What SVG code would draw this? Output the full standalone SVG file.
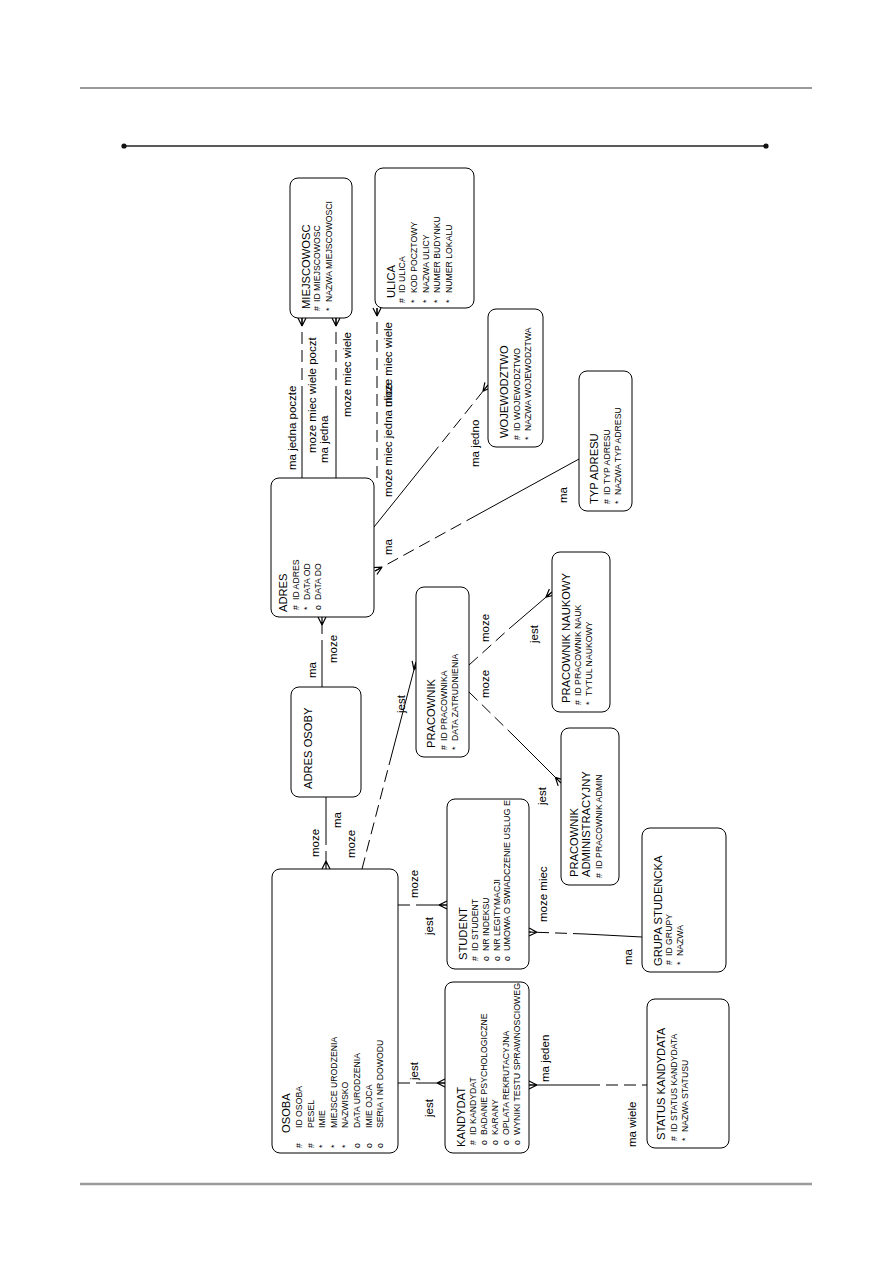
<svg xmlns="http://www.w3.org/2000/svg" width="893" height="1263" viewBox="0 0 893 1263">
<style>
.box{fill:#fff;stroke:#000;stroke-width:1}
.t{font-family:"Liberation Sans",Arial,sans-serif;font-size:11.2px;fill:#000}
.a{font-family:"Liberation Sans",Arial,sans-serif;font-size:8.7px;fill:#000}
.l{font-family:"Liberation Sans",Arial,sans-serif;font-size:11.5px;fill:#000}
.s{fill:none;stroke:#000;stroke-width:1}
.d{fill:none;stroke:#000;stroke-width:1;stroke-dasharray:12 6}
.cf{fill:none;stroke:#000;stroke-width:1.2;stroke-dasharray:none}
</style>
<defs>
<marker id="crow" markerUnits="userSpaceOnUse" markerWidth="12" markerHeight="12" refX="10" refY="6" orient="auto">
<path class="cf" d="M2,6 L10,2 M2,6 L10,10 M2,6 L10,6"/>
</marker>
</defs>
<rect x="0" y="0" width="893" height="1263" fill="#fff"/>
<g id="page">
<line x1="80" y1="88" x2="812" y2="88" stroke="#9a9a9a" stroke-width="2.2"/>
<line x1="80" y1="1184" x2="812" y2="1184" stroke="#9a9a9a" stroke-width="2.4"/>
<line x1="124" y1="146" x2="766" y2="146" stroke="#222" stroke-width="1.6"/>
<circle cx="124" cy="146" r="2.6" fill="#111"/>
<circle cx="766" cy="146" r="2.6" fill="#111"/>
</g>
<g id="connectors">
<path class="s" d="M302,478 L302,398"/><path class="d" d="M302,398 L302,318" marker-end="url(#crow)"/>
<path class="s" d="M336,478 L336,398"/><path class="d" d="M336,398 L336,318" marker-end="url(#crow)"/>
<path class="d" d="M377,478 L377,308" marker-end="url(#crow)"/>
<path class="s" d="M374,527 L431,456"/><path class="d" d="M431,456 L488,385" marker-end="url(#crow)"/>
<path class="d" d="M477,515 L375,571" marker-end="url(#crow)"/><path class="s" d="M477,515 L579,459"/>
<path class="d" d="M322,652 L322,617" marker-end="url(#crow)"/><path class="s" d="M322,652 L322,687"/>
<path class="s" d="M326,797 L326,833"/><path class="d" d="M326,833 L326,869" marker-end="url(#crow)"/>
<path class="d" d="M362,869 L389,765"/><path class="s" d="M389,765 L416,662" marker-end="url(#crow)"/>
<path class="d" d="M469,665 L510,628"/><path class="s" d="M510,628 L552,592" marker-end="url(#crow)"/>
<path class="d" d="M469,692 L515,737"/><path class="s" d="M515,737 L561,783" marker-end="url(#crow)"/>
<path class="d" d="M398,905 L422,905"/><path class="s" d="M422,905 L447,905" marker-end="url(#crow)"/>
<path class="d" d="M398,1083 L421,1083"/><path class="s" d="M421,1083 L445,1083" marker-end="url(#crow)"/>
<path class="d" d="M585,934 L529,932" marker-end="url(#crow)"/><path class="s" d="M585,934 L642,937"/>
<path class="s" d="M588,1085 L529,1085" marker-end="url(#crow)"/><path class="d" d="M588,1085 L647,1085"/>
</g>
<g id="labels">
<text class="l" transform="translate(296,470) rotate(-90)">ma jedna poczte</text>
<text class="l" transform="translate(316,453) rotate(-90)">moze miec wiele poczt</text>
<text class="l" transform="translate(328,463) rotate(-90)">ma jedna</text>
<text class="l" transform="translate(351,417) rotate(-90)">moze miec wiele</text>
<text class="l" transform="translate(392,497) rotate(-90)">moze miec jedna ulice</text>
<text class="l" transform="translate(392,407) rotate(-90)">moze miec wiele</text>
<text class="l" transform="translate(479,467) rotate(-90)">ma jedno</text>
<text class="l" transform="translate(392,555) rotate(-90)">ma</text>
<text class="l" transform="translate(567,503) rotate(-90)">ma</text>
<text class="l" transform="translate(316,678) rotate(-90)">ma</text>
<text class="l" transform="translate(337,663) rotate(-90)">moze</text>
<text class="l" transform="translate(319,857) rotate(-90)">moze</text>
<text class="l" transform="translate(341,828) rotate(-90)">ma</text>
<text class="l" transform="translate(355,858) rotate(-90)">moze</text>
<text class="l" transform="translate(405,713) rotate(-90)">jest</text>
<text class="l" transform="translate(489,642) rotate(-90)">moze</text>
<text class="l" transform="translate(538,643) rotate(-90)">jest</text>
<text class="l" transform="translate(489,698) rotate(-90)">moze</text>
<text class="l" transform="translate(546,805) rotate(-90)">jest</text>
<text class="l" transform="translate(418,898) rotate(-90)">moze</text>
<text class="l" transform="translate(433,935) rotate(-90)">jest</text>
<text class="l" transform="translate(418,1080) rotate(-90)">jest</text>
<text class="l" transform="translate(433,1117) rotate(-90)">jest</text>
<text class="l" transform="translate(547,922) rotate(-90)">moze miec</text>
<text class="l" transform="translate(632,965) rotate(-90)">ma</text>
<text class="l" transform="translate(549,1082) rotate(-90)">ma jeden</text>
<text class="l" transform="translate(636,1147) rotate(-90)">ma wiele</text>
</g>
<g id="miejscowosc">
<rect class="box" x="290" y="178" width="62" height="140" rx="8"/>
<g transform="translate(290,318) rotate(-90)">
<text class="t" x="9" y="20">MIEJSCOWOSC</text>
<text class="a" x="7" y="30">#</text><text class="a" x="16" y="30">ID MIEJSCOWOSC</text>
<text class="a" x="7" y="41.5">*</text><text class="a" x="16" y="41.5">NAZWA MIEJSCOWOSCI</text>
</g>
</g>
<g id="ulica">
<rect class="box" x="375" y="168" width="99" height="140" rx="8"/>
<g transform="translate(375,308) rotate(-90)">
<text class="t" x="10" y="20">ULICA</text>
<text class="a" x="5" y="30">#</text><text class="a" x="15" y="30">ID ULICA</text>
<text class="a" x="5" y="42">*</text><text class="a" x="15" y="42">KOD POCZTOWY</text>
<text class="a" x="5" y="53.5">*</text><text class="a" x="15" y="53.5">NAZWA ULICY</text>
<text class="a" x="5" y="65">*</text><text class="a" x="15" y="65">NUMER BUDYNKU</text>
<text class="a" x="5" y="77">*</text><text class="a" x="15" y="77">NUMER LOKALU</text>
</g>
</g>
<g id="wojewodztwo">
<rect class="box" x="488" y="309" width="55" height="138" rx="8"/>
<g transform="translate(488,447) rotate(-90)">
<text class="t" x="9" y="20">WOJEWODZTWO</text>
<text class="a" x="7" y="32">#</text><text class="a" x="16" y="32">ID WOJEWODZTWO</text>
<text class="a" x="7" y="43">*</text><text class="a" x="16" y="43">NAZWA WOJEWODZTWA</text>
</g>
</g>
<g id="typ_adresu">
<rect class="box" x="579" y="371" width="53" height="140" rx="8"/>
<g transform="translate(579,511) rotate(-90)">
<text class="t" x="7" y="19">TYP ADRESU</text>
<text class="a" x="7" y="31">#</text><text class="a" x="16" y="31">ID TYP ADRESU</text>
<text class="a" x="7" y="41.5">*</text><text class="a" x="16" y="41.5">NAZWA TYP ADRESU</text>
</g>
</g>
<g id="adres">
<rect class="box" x="271" y="478" width="103" height="139" rx="8"/>
<g transform="translate(271,617) rotate(-90)">
<text class="t" x="5" y="16">ADRES</text>
<text class="a" x="7" y="28">#</text><text class="a" x="17" y="28">ID ADRES</text>
<text class="a" x="7" y="39">*</text><text class="a" x="17" y="39">DATA OD</text>
<text class="a" x="7" y="49.5">o</text><text class="a" x="17" y="49.5">DATA DO</text>
</g>
</g>
<g id="adres_osoby">
<rect class="box" x="291" y="687" width="70" height="110" rx="8"/>
<g transform="translate(291,797) rotate(-90)">
<text class="t" x="8" y="21">ADRES OSOBY</text>
</g>
</g>
<g id="osoba">
<rect class="box" x="272" y="869" width="126" height="284" rx="8"/>
<g transform="translate(272,1153) rotate(-90)">
<text class="t" x="20" y="18">OSOBA</text>
<text class="a" x="5" y="30">#</text><text class="a" x="25" y="30">ID OSOBA</text>
<text class="a" x="5" y="41.6">#</text><text class="a" x="25" y="41.6">PESEL</text>
<text class="a" x="5" y="53.2">*</text><text class="a" x="25" y="53.2">IMIE</text>
<text class="a" x="5" y="64.8">*</text><text class="a" x="25" y="64.8">MIEJSCE URODZENIA</text>
<text class="a" x="5" y="76.4">*</text><text class="a" x="25" y="76.4">NAZWISKO</text>
<text class="a" x="5" y="88">o</text><text class="a" x="25" y="88">DATA URODZENIA</text>
<text class="a" x="5" y="99.6">o</text><text class="a" x="25" y="99.6">IMIE OJCA</text>
<text class="a" x="5" y="111.2">o</text><text class="a" x="25" y="111.2">SERIA I NR DOWODU</text>
</g>
</g>
<g id="pracownik">
<rect class="box" x="416" y="587" width="53" height="170" rx="8"/>
<g transform="translate(416,757) rotate(-90)">
<text class="t" x="9" y="19">PRACOWNIK</text>
<text class="a" x="7" y="31">#</text><text class="a" x="16" y="31">ID PRACOWNIKA</text>
<text class="a" x="7" y="42">*</text><text class="a" x="16" y="42">DATA ZATRUDNIENIA</text>
</g>
</g>
<g id="pracownik_naukowy">
<rect class="box" x="552" y="552" width="58" height="160" rx="8"/>
<g transform="translate(552,712) rotate(-90)">
<text class="t" x="9" y="18">PRACOWNIK NAUKOWY</text>
<text class="a" x="7" y="29">#</text><text class="a" x="16" y="29">ID PRACOWNIK NAUK</text>
<text class="a" x="7" y="40">*</text><text class="a" x="16" y="40">TYTUL NAUKOWY</text>
</g>
</g>
<g id="pracownik_administracyjny">
<rect class="box" x="561" y="728" width="58" height="157" rx="8"/>
<g transform="translate(561,885) rotate(-90)">
<text class="t" x="8" y="17">PRACOWNIK</text>
<text class="t" x="8" y="29">ADMINISTRACYJNY</text>
<text class="a" x="7" y="41">#</text><text class="a" x="16" y="41">ID PRACOWNIK ADMIN</text>
</g>
</g>
<g id="student">
<rect class="box" x="447" y="799" width="82" height="170" rx="8"/>
<g transform="translate(447,969) rotate(-90)">
<text class="t" x="9" y="20">STUDENT</text>
<text class="a" x="8" y="31">#</text><text class="a" x="18" y="31">ID STUDENT</text>
<text class="a" x="8" y="41.5">o</text><text class="a" x="18" y="41.5">NR INDEKSU</text>
<text class="a" x="8" y="52.5">o</text><text class="a" x="18" y="52.5">NR LEGITYMACJI</text>
<text class="a" x="8" y="63">o</text><text class="a" x="18" y="63" textLength="151" lengthAdjust="spacingAndGlyphs">UMOWA O SWIADCZENIE USLUG E</text>
</g>
</g>
<g id="grupa_studencka">
<rect class="box" x="642" y="828" width="84" height="144" rx="8"/>
<g transform="translate(642,972) rotate(-90)">
<text class="t" x="6" y="20">GRUPA STUDENCKA</text>
<text class="a" x="7" y="30">#</text><text class="a" x="16" y="30">ID GRUPY</text>
<text class="a" x="7" y="41">*</text><text class="a" x="16" y="41">NAZWA</text>
</g>
</g>
<g id="kandydat">
<rect class="box" x="445" y="982" width="84" height="171" rx="8"/>
<g transform="translate(445,1153) rotate(-90)">
<text class="t" x="6" y="20">KANDYDAT</text>
<text class="a" x="8" y="30.5">#</text><text class="a" x="18" y="30.5">ID KANDYDAT</text>
<text class="a" x="8" y="41.5">o</text><text class="a" x="18" y="41.5">BADANIE PSYCHOLOGICZNE</text>
<text class="a" x="8" y="52.5">o</text><text class="a" x="18" y="52.5">KARANY</text>
<text class="a" x="8" y="63.5">o</text><text class="a" x="18" y="63.5">OPLATA REKRUTACYJNA</text>
<text class="a" x="8" y="74.5">o</text><text class="a" x="18" y="74.5" textLength="152" lengthAdjust="spacingAndGlyphs">WYNIKI TESTU SPRAWNOSCIOWEG</text>
</g>
</g>
<g id="status_kandydata">
<rect class="box" x="647" y="999" width="82" height="149" rx="8"/>
<g transform="translate(647,1148) rotate(-90)">
<text class="t" x="8" y="18">STATUS KANDYDATA</text>
<text class="a" x="7" y="30">#</text><text class="a" x="16" y="30">ID STATUS KANDYDATA</text>
<text class="a" x="7" y="40.5">*</text><text class="a" x="16" y="40.5">NAZWA STATUSU</text>
</g>
</g>
</svg>
